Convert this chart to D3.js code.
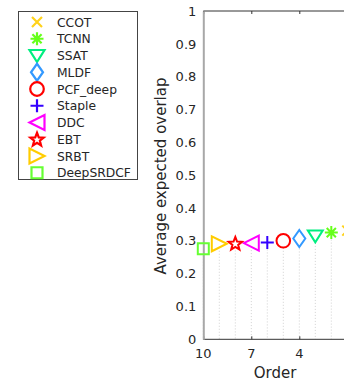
<!DOCTYPE html>
<html><head><meta charset="utf-8">
<script src="https://cdn.jsdelivr.net/npm/d3@7"></script>
<style>body{margin:0;background:#fff;} svg{display:block;font-family:"DejaVu Sans",sans-serif;}</style>
</head><body>
<svg id="c" width="344" height="383"></svg>
<script>
const trackers = ["CCOT","TCNN","SSAT","MLDF","PCF_deep","Staple","DDC","EBT","SRBT","DeepSRDCF"];
const orders = [1,2,3,4,5,6,7,8,9,10];
const eao = [0.331,0.325,0.315,0.307,0.300,0.295,0.293,0.292,0.291,0.276];
const xTicks = [10,7,4,1];
const xTickLabels = [10,7,4];
const yTicks = [0,0.1,0.2,0.3,0.4,0.5,0.6,0.7,0.8,0.9,1];

const colors = ["#ffd21a","#66ff1a","#00ee80","#3399ff","#ff0000","#3300ff","#ff00ff","#ff0000","#ffcc00","#66ff33"];
const shapes = ["x","*","v","d","o","+","<","p",">","s"];

const svg = d3.select("#c");
const x = d3.scaleLinear().domain([10,1]).range([203.3,347.3]);
const y = d3.scaleLinear().domain([0,1]).range([339.3,11]);

function markerPath(t){
  const p = d3.path();
  if(t==="x"){p.moveTo(-5,-5);p.lineTo(5,5);p.moveTo(-5,5);p.lineTo(5,-5);}
  else if(t==="*"){for(let k=0;k<4;k++){const a=k*Math.PI/4;p.moveTo(-6.5*Math.cos(a),-6.5*Math.sin(a));p.lineTo(6.5*Math.cos(a),6.5*Math.sin(a));}}
  else if(t==="v"){p.moveTo(-7.5,-5.5);p.lineTo(7.5,-5.5);p.lineTo(0,6.5);p.closePath();}
  else if(t==="d"){p.moveTo(0,-8.5);p.lineTo(6,0);p.lineTo(0,8.5);p.lineTo(-6,0);p.closePath();}
  else if(t==="o"){p.moveTo(6.8,0);p.arc(0,0,6.8,0,2*Math.PI);}
  else if(t==="+"){p.moveTo(-6.5,0);p.lineTo(6.5,0);p.moveTo(0,-6.5);p.lineTo(0,6.5);}
  else if(t==="<"){p.moveTo(-7.5,0);p.lineTo(7.5,-7.5);p.lineTo(7.5,7.5);p.closePath();}
  else if(t===">"){p.moveTo(7.5,0);p.lineTo(-7.5,-7.5);p.lineTo(-7.5,7.5);p.closePath();}
  else if(t==="s"){p.rect(-5.5,-5.5,11,11);}
  else if(t==="p"){const R=7,r=3;for(let k=0;k<10;k++){const a=-Math.PI/2+k*Math.PI/5;const rr=k%2?r:R;const px=rr*Math.cos(a),py=rr*Math.sin(a)+0.5;if(k===0)p.moveTo(px,py);else p.lineTo(px,py);}p.closePath();}
  return p.toString();
}

// stems (dotted)
svg.append("g").selectAll("line").data(orders).join("line")
  .attr("x1",d=>x(d)).attr("x2",d=>x(d))
  .attr("y1",(d,i)=>y(eao[i])+7).attr("y2",y(0))
  .attr("stroke","#d0d0d0").attr("stroke-width",1).attr("stroke-dasharray","1,2");

// top axis
const topAx = svg.append("g").attr("transform",`translate(0,${y(1)})`)
  .call(d3.axisBottom(x).tickValues(xTicks).tickSize(3).tickFormat(""));
topAx.select(".domain").attr("d",`M${x(10)},0H344`).attr("stroke","#333");
topAx.selectAll(".tick line").attr("stroke","#333");

// bottom axis
const botAx = svg.append("g").attr("transform",`translate(0,${y(0)})`)
  .call(d3.axisTop(x).tickValues(xTicks).tickSize(3).tickFormat(""));
botAx.select(".domain").attr("d",`M${x(10)},0H344`).attr("stroke","#333");
botAx.selectAll(".tick line").attr("stroke","#333");
svg.append("g").selectAll("text").data(xTickLabels).join("text")
  .attr("x",d=>x(d)).attr("y",358).attr("text-anchor","middle")
  .attr("font-size",13).attr("fill","#262626").text(d=>d);

// left axis
const leftAx = svg.append("g").attr("transform",`translate(${x(10)},0)`)
  .call(d3.axisLeft(y).tickValues(yTicks).tickSize(0).tickPadding(7).tickFormat(d=>d3.format("~g")(d)));
leftAx.select(".domain").attr("stroke","#a8a8a8").attr("stroke-width",2);
leftAx.selectAll("text").attr("font-size",13).attr("fill","#262626").attr("font-family","DejaVu Sans");

// labels
svg.append("text").attr("transform","translate(166,176) rotate(-90)")
  .attr("text-anchor","middle").attr("font-size",15).attr("fill","#262626").text("Average expected overlap");
svg.append("text").attr("x",275).attr("y",378).attr("text-anchor","middle")
  .attr("font-size",15).attr("fill","#262626").text("Order");

// markers
svg.append("g").selectAll("path").data(orders).join("path")
  .attr("transform",(d,i)=>`translate(${x(d)},${y(eao[i])})`)
  .attr("d",(d,i)=>markerPath(shapes[i]))
  .attr("fill","none").attr("stroke",(d,i)=>colors[i]).attr("stroke-width",2);

// legend
const lg = svg.append("g");
lg.append("rect").attr("x",18.5).attr("y",11.5).attr("width",119).attr("height",168)
  .attr("fill","#fff").attr("stroke","#444").attr("stroke-width",1);
const items = lg.selectAll("g.it").data(trackers).join("g").attr("class","it")
  .attr("transform",(d,i)=>`translate(0,${22+i*16.75})`);
items.append("path").attr("transform","translate(37,0)")
  .attr("d",(d,i)=>markerPath(shapes[i])).attr("fill","none")
  .attr("stroke",(d,i)=>colors[i]).attr("stroke-width",2.2);
items.append("text").attr("x",57).attr("y",4.5).attr("font-size",12.3).attr("fill","#262626").text(d=>d);
</script>
</body></html>
